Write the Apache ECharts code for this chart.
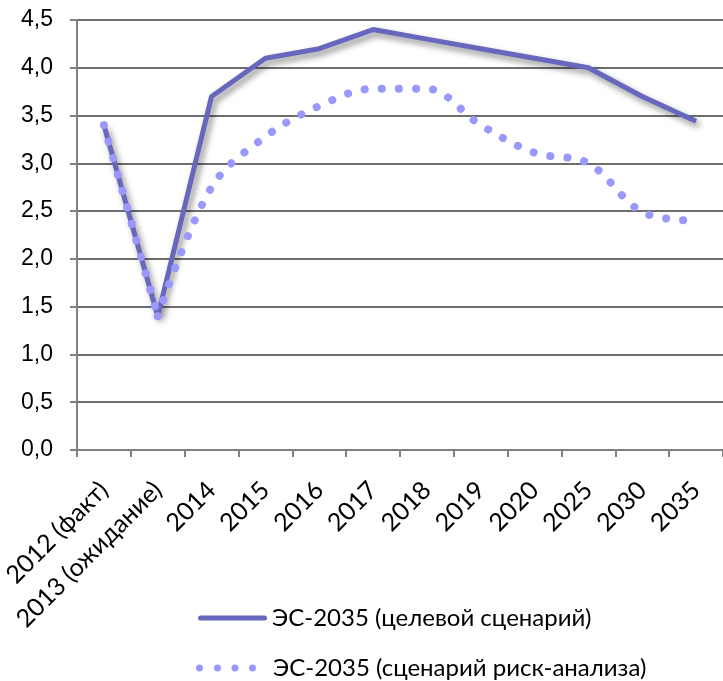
<!DOCTYPE html>
<html><head><meta charset="utf-8">
<script src="https://cdn.jsdelivr.net/npm/echarts@6/dist/echarts.min.js"></script>
<style>html,body{margin:0;padding:0;background:#fff}#c{width:723px;height:681px}</style>
</head><body><div id="c"></div>
<script>
const categories = ['2012 (факт)', '2013 (ожидание)', '2014', '2015', '2016', '2017', '2018', '2019', '2020', '2025', '2030', '2035'];
const targetScenario = [3.4, 1.4, 3.7, 4.1, 4.2, 4.4, 4.3, 4.2, 4.1, 4.0, 3.7, 3.44];
const riskScenario = [3.4, 1.4, 2.75, 3.28, 3.6, 3.78, 3.78, 3.4, 3.11, 3.0, 2.49, 2.4];
const seriesNames = ['ЭС-2035 (целевой сценарий)', 'ЭС-2035 (сценарий риск-анализа)'];
const yTicks = { min: 0, max: 4.5, interval: 0.5 };

const solidColor = '#6767bd';
const dotColor = '#9999fb';
function circ(cx, r) {
  return 'M' + (cx - r) + ',' + r + ' A' + r + ',' + r + ' 0 1,0 ' + (cx + r) + ',' + r +
         ' A' + r + ',' + r + ' 0 1,0 ' + (cx - r) + ',' + r + ' Z ';
}
const dotsIcon = 'path://' + circ(3.5, 3.5) + circ(21.5, 3.5) + circ(39, 3.5) + circ(56.5, 3.5);

const chart = echarts.init(document.getElementById('c'), null, { renderer: 'canvas' });
chart.setOption({
  animation: false,
  backgroundColor: '#fff',
  grid: { left: 77, right: 0, top: 20, bottom: 231, containLabel: false, outerBoundsMode: 'none' },
  xAxis: {
    type: 'category', data: categories, boundaryGap: true,
    axisLine: { lineStyle: { color: '#808080', width: 2 } },
    axisTick: { show: true, length: 7, lineStyle: { color: '#808080', width: 2 }, interval: 0 },
    axisLabel: { rotate: 45, interval: 0, color: '#000', fontSize: 25, fontFamily: 'Lato', margin: 36, hideOverlap: false }
  },
  yAxis: {
    type: 'value', min: yTicks.min, max: yTicks.max, interval: yTicks.interval,
    axisLine: { show: true, lineStyle: { color: '#808080', width: 2 } },
    axisTick: { show: true, length: 7, lineStyle: { color: '#808080', width: 2 } },
    splitLine: { lineStyle: { color: '#6e6e6e', width: 2 } },
    axisLabel: { color: '#000', fontSize: 23, fontFamily: 'Liberation Sans', margin: 24,
      formatter: v => v.toFixed(1).replace('.', ',') }
  },
  legend: [
    {
      orient: 'vertical', left: 193, top: 601, itemWidth: 69, itemHeight: 28, symbolKeepAspect: true,
      textStyle: { color: '#000', fontSize: 24, fontFamily: 'Lato' },
      data: [{ name: seriesNames[0], icon: 'path://M2.5,0 L66.5,0 A2.5,2.5 0 0,1 66.5,5 L2.5,5 A2.5,2.5 0 0,1 2.5,0 Z' }]
    },
    {
      orient: 'vertical', left: 191, top: 651, itemWidth: 60, itemHeight: 28, symbolKeepAspect: true,
      textStyle: { color: '#000', fontSize: 24, fontFamily: 'Lato', padding: [0, 0, 0, 12] },
      data: [{ name: seriesNames[1], icon: dotsIcon }]
    }
  ],
  series: [
    {
      name: seriesNames[0], type: 'line', data: targetScenario, symbol: 'none', smooth: false,
      lineStyle: { color: solidColor, width: 5, shadowColor: 'rgba(0,0,0,0.45)', shadowBlur: 6, shadowOffsetX: 3, shadowOffsetY: 4 },
      itemStyle: { color: solidColor }, z: 2
    },
    {
      name: seriesNames[1], type: 'line', data: riskScenario.map((v, i) => i <= 1 ? v : '-'),
      symbol: 'none', smooth: false,
      lineStyle: { color: dotColor, width: 8, type: [0.1, 17], cap: 'round' },
      itemStyle: { color: dotColor }, z: 3
    },
    {
      name: seriesNames[1], type: 'line', data: riskScenario.map((v, i) => i >= 1 ? v : '-'),
      symbol: 'none', smooth: 0.35,
      lineStyle: { color: dotColor, width: 8, type: [0.1, 17], cap: 'round' },
      itemStyle: { color: dotColor }, z: 3
    }
  ]
});
</script></body></html>
